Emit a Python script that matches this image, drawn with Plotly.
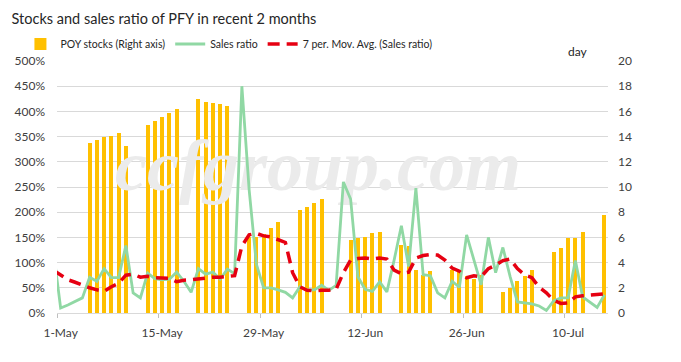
import pandas as pd
import plotly.graph_objects as go

# ---------------- data ----------------
line_dates = pd.date_range("2019-04-30", "2019-07-15", freq="D")

sales_ratio = [123,
               10, 16, 23, 30, 71, 63, 88, 70, 70, 134,
               40, 30, 79, 68, 66, 67, 81, 63, 41, 88,
               77, 81, 67, 87, 78, 450, 245, 97, 50, 50,
               46, 41, 30, 52, 46, 46, 55, 45, 55, 260,
               226, 72, 47, 43, 62, 42, 105, 173, 92, 248,
               76, 74, 40, 30, 63, 51, 155, 108, 56, 150,
               80, 130, 72, 22, 20, 18, 14, 5, 24, 30,
               30, 104, 32, 21, 11, 36]

mov_avg = [85,
           76, 66, 61, 55, 50, 46, 43, 52, 59, 75,
           77, 71, 73, 70, 70, 69, 62, 65, 66, 68,
           69, 71, 71, 72, 74, 133, 155, 158, 153, 151,
           145, 140, 80, 52, 45, 44, 45, 45, 47, 80,
           105, 108, 109, 107, 109, 107, 85, 78, 81, 109,
           114, 116, 115, 105, 89, 83, 70, 74, 72, 88,
           95, 104, 107, 88, 76, 70, 51, 40, 25, 19,
           20, 32, 34, 35, 36, 38]

stock_dates = ["2019-05-05", "2019-05-06", "2019-05-07", "2019-05-08", "2019-05-09", "2019-05-10",
               "2019-05-13", "2019-05-14", "2019-05-15", "2019-05-16", "2019-05-17",
               "2019-05-20", "2019-05-21", "2019-05-22", "2019-05-23", "2019-05-24",
               "2019-05-27", "2019-05-28", "2019-05-29", "2019-05-30", "2019-05-31",
               "2019-06-03", "2019-06-04", "2019-06-05", "2019-06-06",
               "2019-06-10", "2019-06-11", "2019-06-12", "2019-06-13", "2019-06-14",
               "2019-06-17", "2019-06-18", "2019-06-19", "2019-06-20", "2019-06-21",
               "2019-06-24", "2019-06-25", "2019-06-26", "2019-06-27", "2019-06-28",
               "2019-07-01", "2019-07-02", "2019-07-03", "2019-07-04", "2019-07-05",
               "2019-07-08", "2019-07-09", "2019-07-10", "2019-07-11", "2019-07-12",
               "2019-07-15"]
poy_stocks = [13.5, 13.73, 13.99, 14.07, 14.31, 13.28,
              14.94, 15.26, 15.58, 15.87, 16.21,
              17.0, 16.75, 16.67, 16.61, 16.45,
              6.0, 6.05, 6.3, 6.75, 7.25,
              8.2, 8.44, 8.72, 9.07,
              5.76, 5.92, 6.06, 6.32, 6.45,
              5.43, 5.3, 3.44, 3.05, 3.37,
              3.44, 3.22, 2.97, 2.68, 3.02,
              1.64, 2.01, 2.51, 2.96, 3.44,
              4.81, 5.18, 5.95, 5.95, 6.45,
              7.8]

tick_dates = ["2019-05-01", "2019-05-15", "2019-05-29", "2019-06-12", "2019-06-26", "2019-07-10"]
tick_labels = ["1-May", "15-May", "29-May", "12-Jun", "26-Jun", "10-Jul"]

title_text = "Stocks and sales ratio of PFY in recent 2 months"
watermark_text = "ccfgroup.com"

# ---------------- figure ----------------
FONT = "Lato, Liberation Sans, Arial, sans-serif"
DAY_MS = 86400000
x_start = pd.Timestamp("2019-04-30 12:00")
x_end = pd.Timestamp("2019-07-15 12:00")

fig = go.Figure()

# watermark (drawn first, under the bars)
fig.add_trace(go.Scatter(
    x=[x_start + (x_end - x_start) / 2 - pd.Timedelta(days=2)], y=[0.56 * 20],
    mode="text", text=[watermark_text],
    textfont=dict(family="Liberation Serif, serif", size=72, color="#EBEBEB",
                  style="italic", weight="bold"),
    hoverinfo="skip", showlegend=False, yaxis="y", cliponaxis=False))

fig.add_trace(go.Bar(
    x=stock_dates, y=poy_stocks, name="POY stocks (Right axis)",
    marker=dict(color="#FFC000", line=dict(width=0)),
    width=0.58 * DAY_MS, yaxis="y"))

fig.add_trace(go.Scatter(
    x=line_dates, y=sales_ratio, name="Sales ratio", mode="lines",
    line=dict(color="#90D8A4", width=2.8), yaxis="y2"))

fig.add_trace(go.Scatter(
    x=line_dates, y=mov_avg, name="7 per. Mov. Avg. (Sales ratio)", mode="lines",
    line=dict(color="#E60012", width=3.5, dash="12px,7px"), yaxis="y2"))

fig.update_layout(
    width=681, height=362,
    margin=dict(l=57, r=73, t=61, b=49, autoexpand=False),
    paper_bgcolor="white", plot_bgcolor="white",
    font=dict(family=FONT, size=12, color="#404040"),
    title=dict(text=title_text, x=0.017, xanchor="left", xref="container",
               y=1 - 18.5 / 362, yanchor="middle", yref="container",
               font=dict(family=FONT, size=14.5, color="#262626")),
    showlegend=True,
    legend=dict(orientation="h", xref="container", yref="container",
                x=0.03, xanchor="left", y=1 - 44 / 362, yanchor="middle",
                font=dict(family=FONT, size=10.5, color="#262626"),
                bgcolor="rgba(0,0,0,0)", itemwidth=30, tracegroupgap=0),
    xaxis=dict(type="date", range=[x_start, x_end],
               tickvals=tick_dates, ticktext=tick_labels, ticks="",
               showgrid=False, showline=True, linecolor="#D9D9D9", linewidth=1,
               tickfont=dict(size=12, color="#404040"), ticklabelstandoff=9,
               minor=dict(ticks="outside", ticklen=4, tickcolor="#BFBFBF",
                          tick0=x_start, dtick=14 * DAY_MS, showgrid=False),
               zeroline=False),
    yaxis=dict(side="right", range=[0, 20], dtick=2, showgrid=True,
               gridcolor="#D9D9D9", gridwidth=1, zeroline=False, ticks="",
               tickfont=dict(size=12, color="#404040"), ticklabelstandoff=9),
    yaxis2=dict(side="left", overlaying="y", range=[0, 500], dtick=50,
                ticksuffix="%", showgrid=False, zeroline=False, ticks="",
                tickfont=dict(size=12, color="#404040"), ticklabelstandoff=11),
    annotations=[dict(text="day", xref="paper", yref="paper",
                      x=(590 - 57) / 551, y=1 + (61 - 42) / 252, showarrow=False,
                      font=dict(family=FONT, size=12, color="#262626"))],
    bargap=0,
)

fig.write_html("out.html", config={"displayModeBar": False},
               post_script="document.body.style.margin='0';")
